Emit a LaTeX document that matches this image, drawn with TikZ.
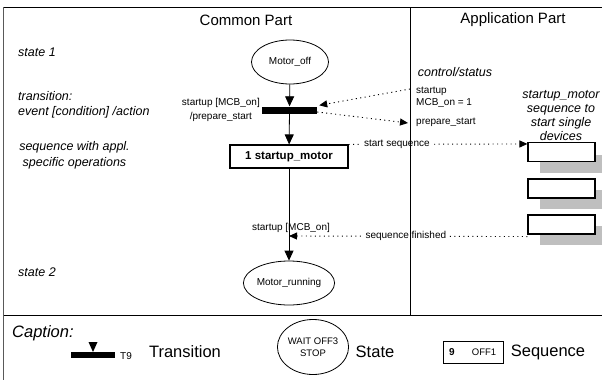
\documentclass[tikz,border=0pt]{standalone}
\usepackage{fontspec}
\setmainfont{Liberation Sans}
\usetikzlibrary{shapes.geometric,arrows.meta}

\begin{document}
\begin{tikzpicture}[x=1pt,y=-1pt,
  every node/.style={inner sep=0pt},
  flow/.style={draw, line width=0.8pt, -{Triangle[length=10pt,width=9pt]}},
  sig/.style={draw, line width=0.9pt, dash pattern=on 1.1pt off 3.4pt,
    -{Triangle[length=8pt,width=7pt]}},
  state/.style={ellipse, draw, line width=0.8pt, minimum width=77pt,
    minimum height=44pt, font=\fontsize{10}{12}\selectfont},
  trans/.style={fill=black, minimum width=55pt, minimum height=7pt},
  seqbox/.style={draw, line width=1.1pt, minimum width=118pt, minimum height=23pt,
    font=\fontsize{11.5}{14}\selectfont\bfseries},
  devbox/.style={draw, fill=white, line width=1.1pt, minimum width=67pt,
    minimum height=19pt},
  devshadow/.style={fill=black!25},
  note/.style={font=\fontsize{12.5}{15}\selectfont\itshape},
  lbl/.style={font=\fontsize{10}{14}\selectfont},
  head/.style={font=\fontsize{15}{18}\selectfont},
  captext/.style={font=\fontsize{16.5}{20}\selectfont},
]
\path[use as bounding box, clip] (0,0) rectangle (602,380);

% frame and column headings
\draw[line width=0.8pt] (3.5,7) -- (602,7);
\draw[line width=1.6pt, black!65] (3.5,7) -- (3.5,380);
\draw[line width=0.9pt] (3.5,315) -- (602,315);
\node[head] (hcommon) at (246,20) {Common Part};
\node[head] (happl) at (513,20) {Application Part};

% left column explanations
\node[note, anchor=west] (n1) at (18,52) {state 1};
\node[note, anchor=west, align=left] (n2) at (18,104.5) {transition:\\event [condition] /action};
\node[note, align=center, font=\fontsize{12.5}{16}\selectfont\itshape] (n3) at (74.5,155) {sequence with appl.\\specific operations};
\node[note, anchor=west] (n4) at (18,272) {state 2};

% common part: state machine
\node[state] (off) at (290,62) {Motor\_off};
\node[trans] (bar) at (289.5,110) {};
\node[seqbox] (seq) at (289,156.5) {1 startup\_motor};
\coordinate (join) at (289,236);
\node[state] (run) at (289,283) {Motor\_running};

\draw[flow] (off) -- (bar);
\draw[flow] (bar) -- (seq);
\draw[flow] (seq) -- (run);

\node[lbl, align=center, anchor=east] (t1) at (260,110) {startup [MCB\_on]\\/prepare\_start};
\node[lbl] (t2) at (291,228) {startup [MCB\_on]};

% application part
\node[note] (ctl) at (455,72) {control/status};
\node[lbl, anchor=west] (c1) at (416,91) {startup};
\node[lbl, anchor=west] (c2) at (416,103) {MCB\_on = 1};
\node[lbl, anchor=west] (c3) at (416,122) {prepare\_start};
\coordinate (ctlin) at (410,89);
\coordinate (ctlout) at (408,123);

\node[note, align=center, font=\fontsize{12.5}{14.3}\selectfont\itshape] (dev) at (561,115.5)
  {startup\_motor\\sequence to\\start single\\devices};

\fill[devshadow] (540,155) rectangle (602,173);
\fill[devshadow] (540,190) rectangle (602,209);
\fill[devshadow] (540,226) rectangle (602,245);
\node[devbox] (d1) at (561.5,152) {};
\node[devbox] (d2) at (561.5,188.5) {};
\node[devbox] (d3) at (561.5,224.5) {};

% control and status signals
\draw[sig] (ctlin) -- ([xshift=2pt,yshift=1pt]bar.north east);
\draw[sig] ([yshift=-2pt]bar.east) -- (ctlout);
\draw[sig] (seq.north east) -- node[pos=0.27, fill=white, inner xsep=2pt, lbl] {start sequence} ([yshift=-2pt]d1.north west);
\draw[sig] ([yshift=-2pt]d3.south west) -- node[pos=0.51, fill=white, inner xsep=2pt, lbl] {sequence finished} (join);

% column divider
\draw[line width=0.8pt] (410,7) -- (410,315);

% caption
\node[font=\fontsize{16.5}{20}\selectfont\itshape, anchor=west] (capt) at (12,333) {Caption:};
\node[fill=black, minimum width=44pt, minimum height=6pt] (capbar) at (93,355) {};
\fill (88.5,342) -- (97.5,342) -- (93,352) -- cycle;
\node[lbl] (t9) at (126,356) {T9};
\node[captext] (ctrans) at (185,352) {Transition};

\node[ellipse, draw, line width=0.8pt, minimum width=64pt, minimum height=55pt,
  align=center, font=\fontsize{9.5}{12}\selectfont] (capstate) at (313,347) {WAIT OFF3\\STOP};
\node[captext] (cstate) at (375,352) {State};

\node[draw, line width=1pt, minimum width=60pt, minimum height=22pt] (capseq) at (473,352) {};
\node[font=\fontsize{10}{12}\selectfont\bfseries] (c9) at (452,352) {9};
\node[font=\fontsize{9.5}{12}\selectfont] (coff) at (484,352) {OFF1};
\node[captext] (cseq) at (548,352) {Sequence};
\end{tikzpicture}
\end{document}
